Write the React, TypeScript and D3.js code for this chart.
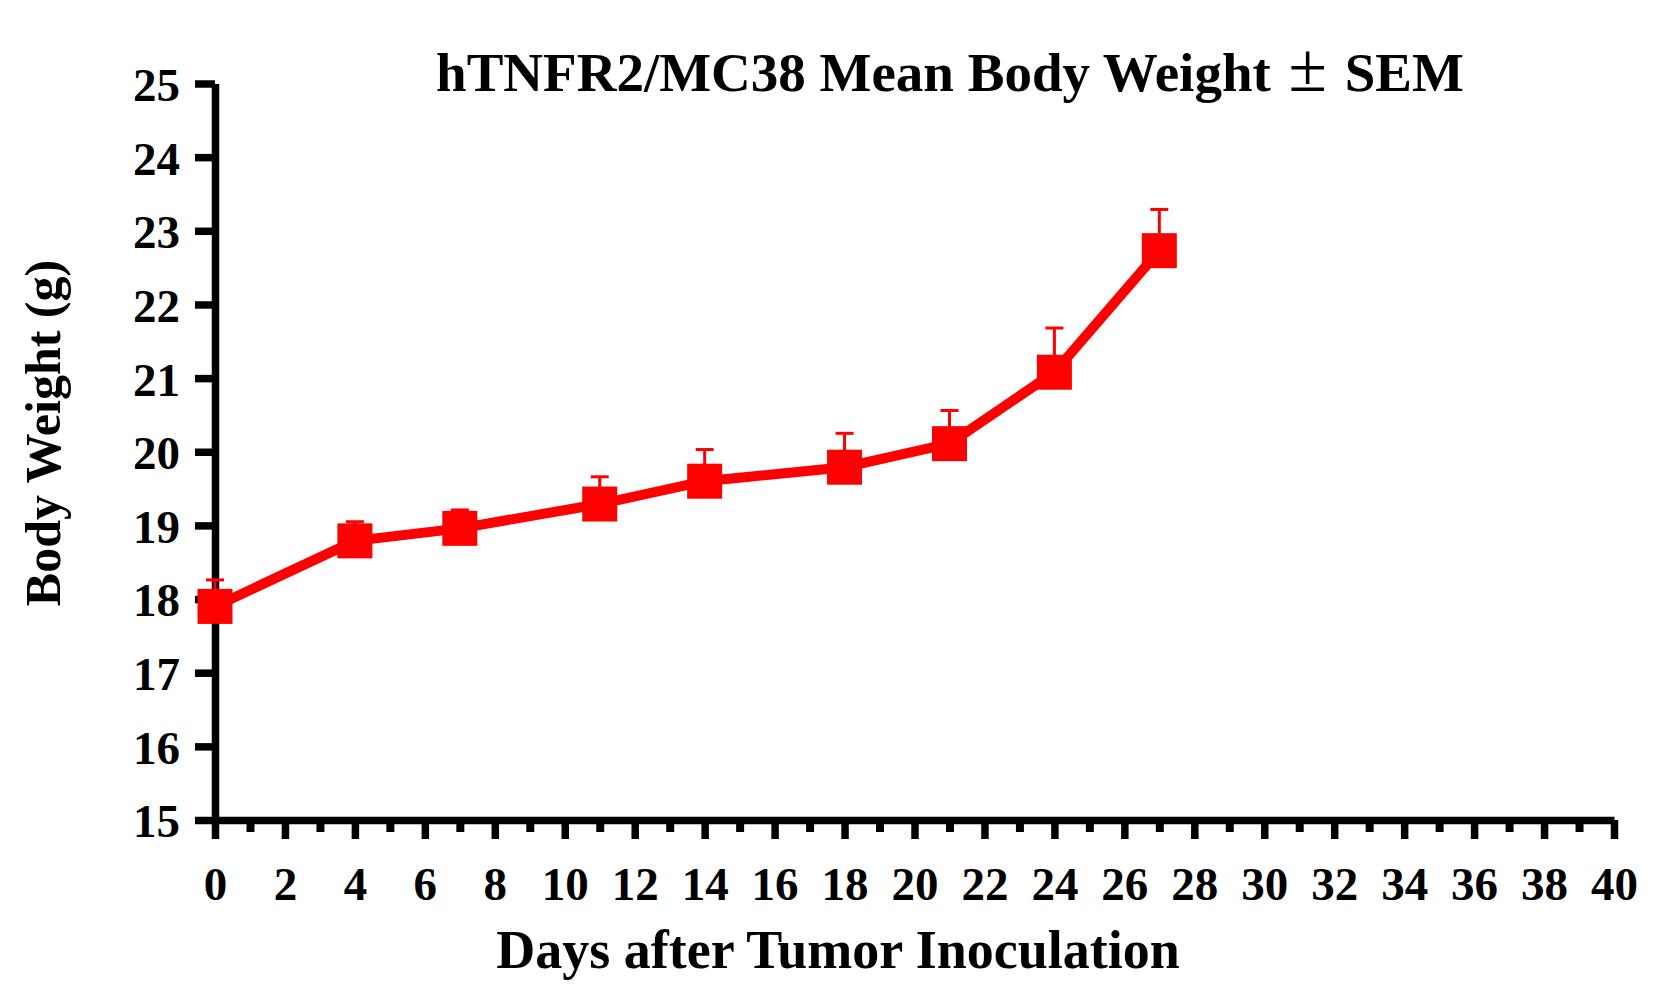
import { useEffect, useRef } from "react";
import * as d3 from "d3";

const days = [0, 4, 7, 11, 14, 18, 21, 24, 27];
const meanWeight = [17.9, 18.79, 18.96, 19.29, 19.6, 19.79, 20.11, 21.08, 22.73];
const semWeight = [0.36, 0.26, 0.25, 0.37, 0.43, 0.46, 0.45, 0.6, 0.56];

const yTicks = [15, 16, 17, 18, 19, 20, 21, 22, 23, 24, 25];
const xMajorTicks = d3.range(0, 41, 2);
const xMinorTicks = d3.range(1, 40, 2);

const W = 1678;
const H = 994;
const RED = "#ff0000";
const FONT = "'Liberation Serif', 'Times New Roman', serif";

export default function App() {
  const svgRef = useRef<SVGSVGElement>(null);

  useEffect(() => {
    if (!svgRef.current) return;
    const svg = d3.select(svgRef.current);
    svg.selectAll("*").remove();

    const x = d3.scaleLinear().domain([0, 40]).range([215, 1614]);
    const y = d3.scaleLinear().domain([15, 25]).range([820, 83.5]);

    const data = days.map((d, i) => ({ day: d, mean: meanWeight[i], sem: semWeight[i] }));

    // y axis
    const gy = svg
      .append("g")
      .attr("transform", `translate(${x(0)},0)`)
      .call(
        d3.axisLeft(y).tickValues(yTicks).tickSize(20).tickSizeOuter(0).tickPadding(15).tickFormat(d3.format("d"))
      );
    gy.select(".domain").attr("stroke", "#000").attr("stroke-width", 7.5);
    gy.selectAll(".tick line").attr("stroke", "#000").attr("stroke-width", 7.5);
    gy.selectAll(".tick text")
      .attr("dy", "0.36em")
      .style("font-family", FONT)
      .style("font-weight", "bold")
      .style("font-size", "47px")
      .attr("fill", "#000");

    // x axis minor ticks
    const gxm = svg
      .append("g")
      .attr("transform", `translate(0,${y(15)})`)
      .call(d3.axisBottom(x).tickValues(xMinorTicks).tickSize(12).tickSizeOuter(0).tickFormat(() => ""));
    gxm.select(".domain").remove();
    gxm.selectAll(".tick line").attr("stroke", "#000").attr("stroke-width", 8);

    // x axis major ticks
    const gx = svg
      .append("g")
      .attr("transform", `translate(0,${y(15)})`)
      .call(
        d3.axisBottom(x).tickValues(xMajorTicks).tickSize(19).tickSizeOuter(0).tickPadding(28).tickFormat(d3.format("d"))
      );
    gx.select(".domain").attr("stroke", "#000").attr("stroke-width", 7.5);
    gx.selectAll(".tick line").attr("stroke", "#000").attr("stroke-width", 7.5);
    gx.selectAll(".tick text")
      .style("font-family", FONT)
      .style("font-weight", "bold")
      .style("font-size", "47px")
      .attr("fill", "#000");

    // upper error bars
    const eb = svg.append("g").attr("stroke", RED).attr("stroke-width", 3);
    eb.selectAll("line.v")
      .data(data)
      .join("line")
      .attr("class", "v")
      .attr("x1", (d) => x(d.day))
      .attr("x2", (d) => x(d.day))
      .attr("y1", (d) => y(d.mean))
      .attr("y2", (d) => y(d.mean + d.sem));
    eb.selectAll("line.cap")
      .data(data)
      .join("line")
      .attr("class", "cap")
      .attr("x1", (d) => x(d.day) - 9)
      .attr("x2", (d) => x(d.day) + 9)
      .attr("y1", (d) => y(d.mean + d.sem))
      .attr("y2", (d) => y(d.mean + d.sem));

    // mean line
    const line = d3
      .line<{ day: number; mean: number }>()
      .x((d) => x(d.day))
      .y((d) => y(d.mean));
    svg
      .append("path")
      .datum(data)
      .attr("d", line)
      .attr("fill", "none")
      .attr("stroke", RED)
      .attr("stroke-width", 10)
      .attr("stroke-linejoin", "miter");

    // square markers
    svg
      .append("g")
      .selectAll("rect")
      .data(data)
      .join("rect")
      .attr("x", (d) => x(d.day) - 17.5)
      .attr("y", (d) => y(d.mean) - 17.5)
      .attr("width", 35)
      .attr("height", 35)
      .attr("fill", RED);

    // titles
    const txt = (sel: d3.Selection<SVGTextElement, unknown, null, undefined>, size: number) =>
      sel
        .style("font-family", FONT)
        .style("font-weight", "bold")
        .style("font-size", `${size}px`)
        .attr("fill", "#000")
        .attr("text-anchor", "middle");

    const title = txt(svg.append("text").attr("x", 950).attr("y", 91), 55);
    title.append("tspan").text("hTNFR2/MC38 Mean Body Weight ");
    title
      .append("tspan")
      .attr("dx", 4)
      .style("font-weight", "normal")
      .style("font-size", "70px")
      .text("\u00b1");
    title.append("tspan").attr("dx", 4).text(" SEM");

    txt(svg.append("text").attr("x", 838).attr("y", 968), 54).text("Days after Tumor Inoculation");
    txt(svg.append("text").attr("transform", "translate(60,433) rotate(-90)"), 50).text("Body Weight (g)");
  }, []);

  return (
    <svg
      ref={svgRef}
      width={W}
      height={H}
      style={{ position: "absolute", left: 0, top: 0, background: "#fff" }}
    />
  );
}
